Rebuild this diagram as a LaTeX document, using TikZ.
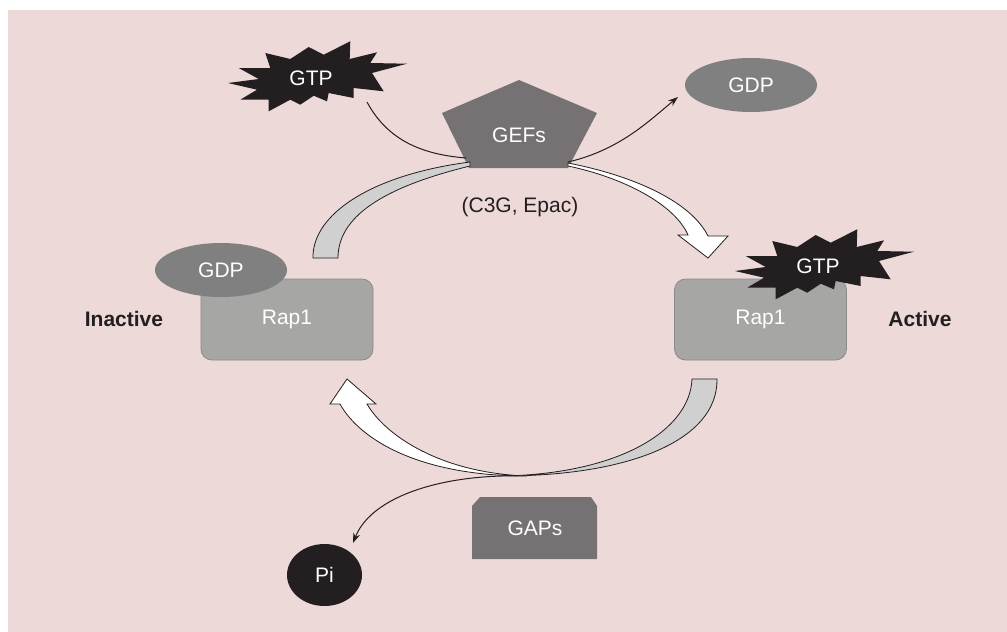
\documentclass[tikz,border=0pt]{standalone}
\usepackage{fontspec}
\setmainfont{Liberation Sans}
\usetikzlibrary{arrows.meta,shapes.geometric}
\definecolor{bg}{HTML}{ECD9D8}
\definecolor{ink}{HTML}{231F20}
\definecolor{rapfill}{HTML}{A6A6A5}
\definecolor{rapline}{HTML}{8A8A8A}
\definecolor{gdpfill}{HTML}{7F807F}
\definecolor{gef}{HTML}{767273}
\definecolor{grayband}{HTML}{D0D0D0}
\tikzset{
  lbl/.style={font=\fontsize{21}{25}\selectfont, text=white, inner sep=0pt},
  blk/.style={font=\fontsize{21}{25}\selectfont, text=ink, inner sep=0pt},
  rapbox/.style={draw=rapline, fill=rapfill, rounded corners=11pt, line width=0.8pt,
    minimum width=172pt, minimum height=81pt, font=\fontsize{21}{25}\selectfont, text=white},
  gdpell/.style={ellipse, fill=gdpfill, minimum width=132pt, minimum height=54pt, inner sep=0pt,
    font=\fontsize{21}{25}\selectfont, text=white},
  band/.style={draw=ink, line width=0.8pt},
  thinline/.style={draw=ink, line width=1pt},
  tip/.style={-{Stealth[length=10pt,width=7pt]}},
  burst/.pic={
    \fill[ink] (-83,5) -- (-52.3,1) -- (-72.3,-10) -- (-40.7,-10) -- (-45.7,-25) -- (-20.7,-19)
      -- (-2.3,-31) -- (12.7,-23.3) -- (39.3,-36.7) -- (38.7,-19) -- (66,-25.7) -- (59.3,-15)
      -- (96,-14.3) -- (61,-5) -- (72.7,13.3) -- (42.7,10) -- (42.7,20) -- (17.7,15) -- (16,23.3)
      -- (2.7,17.7) -- (-10.7,26.7) -- (-20.7,21.7) -- (-42.3,33.3) -- (-42.3,21.7) -- (-70.7,21.7)
      -- (-54,11.7) -- cycle;
  }
}
\begin{document}
\begin{tikzpicture}[x=1pt,y=-1pt]
\useasboundingbox (0,0) rectangle (1007,632);
\fill[bg] (8,10) rectangle (1007,632);

% Rap1 boxes
\node[rapbox] (rapL) at (287,319.5) {Rap1};
\node[rapbox] (rapR) at (760.5,319.5) {Rap1};
\node[gdpell] (gdpL) at (221,270) {GDP};
\pic at (818,266) {burst};
\node[lbl] (gtpR) at (818,266) {GTP};

\node[blk, font=\fontsize{21}{25}\selectfont\bfseries] (inactive) at (124,319) {Inactive};
\node[blk, font=\fontsize{21}{25}\selectfont\bfseries] (active) at (920,319) {Active};

% top
\pic at (311,78) {burst};
\node[lbl] (gtpT) at (311,78) {GTP};
\node[gdpell] (gdpT) at (751,85) {GDP};
\fill[gef] (519,80) -- (597,113) -- (568,168) -- (469,168) -- (442,113) -- cycle;
\node[lbl] (gefs) at (519,135) {GEFs};
\node[blk] (c3g) at (520,207) {(C3G, Epac)};

% bottom
\fill[gef] (472,559) -- (472,506) -- (480,497) -- (591,497) -- (597,506) -- (597,559) -- cycle;
\node[lbl] (gaps) at (535,528) {GAPs};
\node[ellipse, fill=ink, minimum width=75pt, minimum height=62pt, inner sep=0pt, lbl] (pi) at (324.5,575) {Pi};

% coordinates for connector ends
\coordinate (gtpout) at (367,102);
\coordinate (gefL) at (466,158);
\coordinate (gefR) at (568,162);
\coordinate (gdpin) at (678,97);
\coordinate (gapsmid) at (502,476);
\coordinate (piin) at (353,543);

% wide bands top
\filldraw[band, fill=grayband] (313,258) .. controls (312,215) and (370,175) .. (470,162)
  -- (470,166) .. controls (380,188) and (338,218) .. (338,258) -- cycle;
\filldraw[band, fill=white] (568,163) .. controls (630,175) and (690,200) .. (708,236)
  -- (728,236) -- (708,258) -- (678,235) -- (688,235)
  .. controls (675,205) and (625,178) .. (568,166) -- cycle;

% wide bands bottom
\filldraw[band, fill=grayband] (717,379) .. controls (718,440) and (630,476) .. (502,476)
  .. controls (620,474) and (690,430) .. (692,379) -- cycle;
\filldraw[band, fill=white] (527,476) .. controls (420,476) and (360,440) .. (340,404)
  -- (330,404) -- (347,379) -- (376,404) -- (367,404)
  .. controls (385,435) and (440,473) .. (527,476) -- cycle;

% thin connectors
\draw[thinline] (gtpout) .. controls (390,145) and (430,155) .. (gefL);
\draw[thinline, tip] (gefR) .. controls (620,150) and (650,120) .. (gdpin);
\draw[thinline, tip] (gapsmid) .. controls (430,478) and (370,500) .. (piin);
\end{tikzpicture}
\end{document}
